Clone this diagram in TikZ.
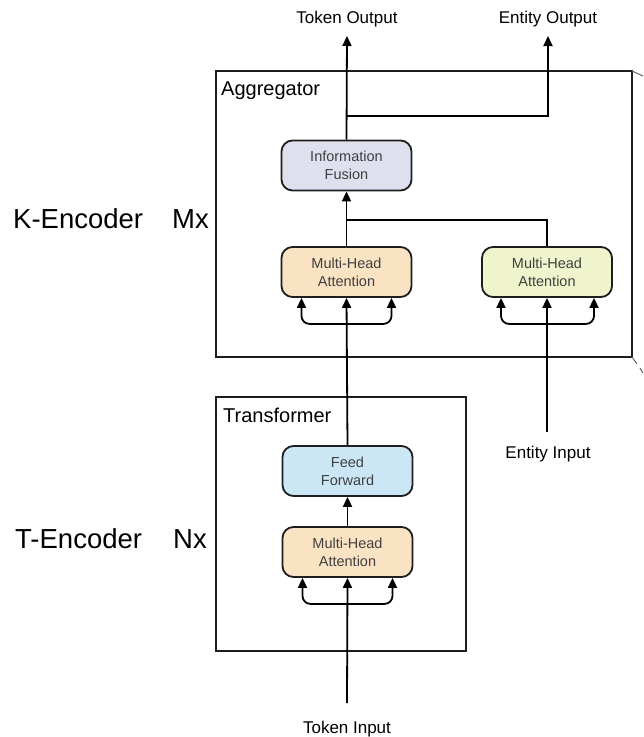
\documentclass[tikz,border=0pt]{standalone}
\usepackage{fontspec}
\setmainfont{Liberation Sans}
\usetikzlibrary{arrows.meta,calc}
\definecolor{fuse}{HTML}{DEE0EE}
\definecolor{peach}{HTML}{FAE3C3}
\definecolor{lime}{HTML}{F0F4CC}
\definecolor{sky}{HTML}{CBE6F4}
\definecolor{ink}{HTML}{1E1E1E}
\tikzset{
  blk/.style={draw=ink, line width=1.8pt, rounded corners=11pt, minimum width=130pt, minimum height=50pt,
    align=center, inner sep=0pt, font=\fontsize{14.5}{18}\selectfont, text=black!75},
  frame/.style={draw=ink, line width=1.4pt},
  arr/.style={draw=black, line width=1.8pt, -{Triangle[length=10pt,width=9pt]}},
  ln/.style={draw=black, line width=1.8pt},
  brk/.style={draw=black, line width=1.8pt, rounded corners=8pt, {Triangle[length=10pt,width=9pt]}-{Triangle[length=10pt,width=9pt]}},
  lab/.style={font=\fontsize{17}{20}\selectfont, inner sep=0pt},
  ttl/.style={font=\fontsize{20}{24}\selectfont, inner sep=0pt, anchor=base west},
  enc/.style={font=\fontsize{27.5}{32}\selectfont, inner sep=0pt, anchor=base west},
}
\begin{document}
\begin{tikzpicture}[x=1pt,y=-1pt]
\useasboundingbox (0,0) rectangle (644,737);
% frames
\draw[frame] (216,71) rectangle (632,357);
\draw[frame] (216,397) rectangle (466,651);
\draw[black!60, line width=1pt] (632,71) -- (643,76);
\draw[black!60, line width=1pt] (632,357) -- (637,364);
\draw[black!60, line width=1pt] (640,368) -- (643,373);
\node[ttl] (aggt) at (221,95) {Aggregator};
\node[ttl] (trt) at (223,422) {Transformer};
\node[enc] (ke) at (13,228) {K-Encoder};
\node[enc] (mx) at (172,228) {Mx};
\node[enc] (te) at (15,548) {T-Encoder};
\node[enc] (nx) at (173,548) {Nx};
% blocks
\node[blk, fill=fuse] (fus) at (346.5,165.5) {Information\\Fusion};
\node[blk, fill=peach] (ma) at (346.5,272) {Multi-Head\\Attention};
\node[blk, fill=lime] (mb) at (547,272) {Multi-Head\\Attention};
\node[blk, fill=sky] (ff) at (347.5,471) {Feed\\Forward};
\node[blk, fill=peach] (mt) at (347.5,552) {Multi-Head\\Attention};
% labels
\node[lab, anchor=base] (tout) at (347,23) {Token Output};
\node[lab, anchor=base] (eout) at (548,23) {Entity Output};
\node[lab, anchor=base] (tin) at (347,733) {Token Input};
\node[lab, anchor=base] (ein) at (548,458) {Entity Input};
\coordinate (toutp) at (347,36);
\coordinate (eoutp) at (548,36);
\coordinate (tinp) at (347,703);
\coordinate (einp) at (547,432);
% connections
\draw[arr] (fus.north) -- (toutp);
\draw[arr] (fus.north |- 0,116) -| (eoutp);
\draw[arr] (ma.north) -- (fus.south);
\draw[ln] (ma.north |- 0,220) -| (mb.north);
\draw[arr] (mt.north) -- (ff.south);
\draw[arr] (ff.north) -- (ma.south);
\draw[arr] (tinp) -- (mt.south);
\draw[arr] (einp) -- (mb.south);
% brackets
\draw[brk] ($(ma.south)+(-45,0)$) -- ($(ma.south)+(-45,26)$) -- ($(ma.south)+(45,26)$) -- ($(ma.south)+(45,0)$);
\draw[brk] ($(mb.south)+(-46,0)$) -- ($(mb.south)+(-46,26)$) -- ($(mb.south)+(47,26)$) -- ($(mb.south)+(47,0)$);
\draw[brk] ($(mt.south)+(-45,0)$) -- ($(mt.south)+(-45,26)$) -- ($(mt.south)+(45,26)$) -- ($(mt.south)+(45,0)$);
\end{tikzpicture}
\end{document}
